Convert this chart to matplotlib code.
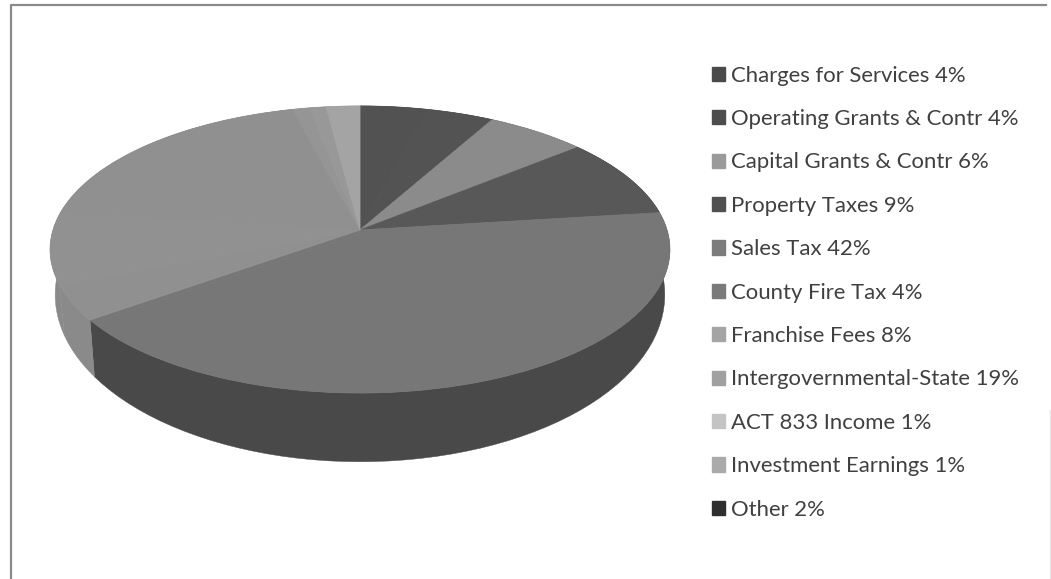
import numpy as np
import matplotlib
matplotlib.use('Agg')
import matplotlib.pyplot as plt
from matplotlib.patches import Patch
from matplotlib.transforms import Transform

plt.rcParams['font.family'] = ['Lato', 'DejaVu Sans']

categories = ['Charges for Services', 'Operating Grants & Contr', 'Capital Grants & Contr',
              'Property Taxes', 'Sales Tax', 'County Fire Tax', 'Franchise Fees',
              'Intergovernmental-State', 'ACT 833 Income', 'Investment Earnings', 'Other']
percents = [4, 4, 6, 9, 42, 4, 8, 19, 1, 1, 2]
top_colors = ['#525252', '#535353', '#8b8b8b', '#585858', '#777777', '#909090',
              '#919191', '#909090', '#959595', '#989898', '#a4a4a4']
side_colors = ['#333333', '#333333', '#5f5f5f', '#3d3d3d', '#494949', '#8a8a8a',
               '#8a8a8a', '#8a8a8a', '#8e8e8e', '#8e8e8e', '#8e8e8e']
legend_colors = ['#4a4a4a', '#4d4d4d', '#9a9a9a', '#505050', '#7c7c7c', '#7a7a7a',
                 '#a4a4a4', '#a0a0a0', '#c4c4c4', '#aaaaaa', '#2e2e2e']


# unit circle -> tilted disc in picture pixels
def project(x, y, cx=360.0, cy=230.0, a=307.0, b=109.6, k=0.1359):
    d = 1 + k * y
    return cx + a * x / d, (cy - b * y) / d


class Tilt(Transform):
    input_dims = output_dims = 2

    def transform_non_affine(self, pts):
        pts = np.asarray(pts)
        return np.column_stack(project(pts[:, 0], pts[:, 1]))


fig = plt.figure(figsize=(10.51, 5.79), dpi=100)
ax = fig.add_axes([0, 0, 1, 1])
wedges, _ = ax.pie(percents, colors=top_colors, startangle=90, counterclock=False)
ax.set_aspect('auto')
ax.set_xlim(0, 1051)
ax.set_ylim(579, 0)

# side wall: same arc, pushed down and a touch smaller
for w, col in zip(wedges, side_colors):
    t = np.radians(np.linspace(w.theta1, w.theta2, 60))
    xt, yt = project(np.cos(t), np.sin(t))
    xb, yb = project(np.cos(t), np.sin(t), cy=272.0, a=302.0, b=127.0)
    ax.fill(np.r_[xt, xb[::-1]], np.r_[yt, yb[::-1]], color=col, lw=0.3, zorder=1)

for w, col in zip(wedges, top_colors):
    w.set_transform(Tilt() + ax.transData)
    w.set_zorder(2)
    w.set_edgecolor(col)
    w.set_linewidth(0.6)

# chart frame
ax.plot([11, 11, 1046], [579, 5, 5], color='#8a8a8a', lw=1.6, zorder=3)
ax.plot([1050, 1050], [410, 579], color='#e8e8e8', lw=1, zorder=3)

handles = [Patch(color=c) for c in legend_colors]
labels = [f'{n} {p}%' for n, p in zip(categories, percents)]
ax.legend(handles, labels, loc='upper left', bbox_to_anchor=(705, 59),
          bbox_transform=ax.transData, frameon=False, fontsize=15.9, labelcolor='#404040',
          handlelength=0.62, handleheight=0.62, handletextpad=0.27, labelspacing=1.06,
          borderaxespad=0, borderpad=0.3)

fig.savefig('out.png', dpi=100)
